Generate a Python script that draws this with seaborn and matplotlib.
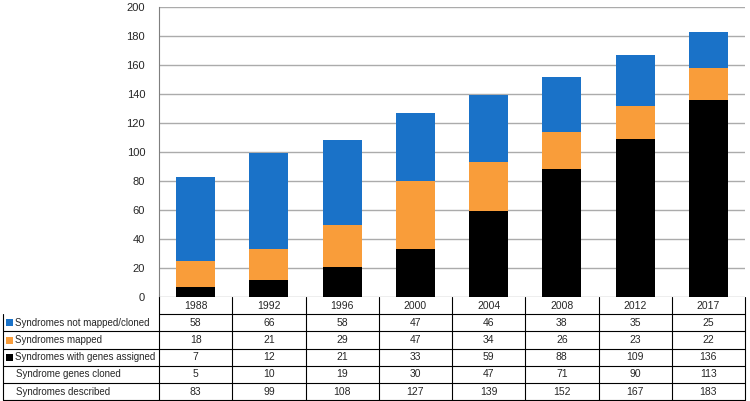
import numpy as np
import pandas as pd
import seaborn as sns
import matplotlib.pyplot as plt

years = ['1988', '1992', '1996', '2000', '2004', '2008', '2012', '2017']
not_mapped = [58, 66, 58, 47, 46, 38, 35, 25]
mapped = [18, 21, 29, 47, 34, 26, 23, 22]
genes_assigned = [7, 12, 21, 33, 59, 88, 109, 136]
genes_cloned = [5, 10, 19, 30, 47, 71, 90, 113]
described = [83, 99, 108, 127, 139, 152, 167, 183]

row_labels = ['Syndromes not mapped/cloned', 'Syndromes mapped',
              'Syndromes with genes assigned', 'Syndrome genes cloned',
              'Syndromes described']
blue = '#1A72C8'
orange = '#F99D3A'
black = '#000000'

sns.set_style('white')
plt.rcParams['font.family'] = ['Liberation Sans', 'DejaVu Sans']

df = pd.DataFrame({'year': years, 'not_mapped': not_mapped, 'mapped': mapped,
                   'assigned': genes_assigned})
df['top_orange'] = df['assigned'] + df['mapped']
df['top_blue'] = df['top_orange'] + df['not_mapped']

W, H = 750, 401
fig = plt.figure(figsize=(7.5, 4.01), dpi=100)
ax = fig.add_axes([159 / W, 1 - 297 / H, (745 - 159) / W, (297 - 7) / H])

# stacked bars drawn from the top of each stack down
for col, c in [('top_blue', blue), ('top_orange', orange), ('assigned', black)]:
    sns.barplot(data=df, x='year', y=col, color=c, width=0.53,
                saturation=1, linewidth=0, edgecolor='none', ax=ax, zorder=3)

ax.set_ylim(0, 200)
ax.set_xlim(-0.5, len(years) - 0.5)
ax.set_yticks(np.arange(0, 201, 20))
ax.yaxis.grid(True, color='#ABABAB', lw=1, zorder=0)
ax.set_axisbelow(True)
ax.tick_params(axis='y', labelsize=8, length=0, pad=10)
ax.set_xticks([])
ax.set_xlabel('')
ax.set_ylabel('')
for s in ['top', 'right', 'bottom']:
    ax.spines[s].set_visible(False)
ax.spines['left'].set_color('#7F7F7F')

# data table below the axes, in figure pixels
def fx(px):
    return px / W

def fy(py):
    return 1 - py / H

tr = fig.transFigure
x0, xl, xr = 3, 159, 745
colw = (xr - xl) / len(years)
head_top, row_h = 297, 17.2
rows_top = head_top + row_h
bottom = rows_top + row_h * len(row_labels)
lc = '#000000'

fig.add_artist(plt.Line2D([fx(xl), fx(xr)], [fy(rows_top)] * 2, transform=tr, color=lc, lw=0.8))
for k in range(len(years) + 1):
    xx = xl + k * colw
    fig.add_artist(plt.Line2D([fx(xx)] * 2, [fy(head_top), fy(bottom)], transform=tr, color=lc, lw=0.8))
fig.add_artist(plt.Line2D([fx(x0)] * 2, [fy(rows_top), fy(bottom)], transform=tr, color=lc, lw=0.8))
for r in range(1, len(row_labels) + 1):
    yy = rows_top + r * row_h
    fig.add_artist(plt.Line2D([fx(x0), fx(xr)], [fy(yy)] * 2, transform=tr, color=lc, lw=0.8))

for k, y in enumerate(years):
    fig.text(fx(xl + (k + 0.5) * colw), fy(head_top + row_h / 2), y,
             ha='center', va='center', fontsize=7.5)

table_rows = [not_mapped, mapped, genes_assigned, genes_cloned, described]
keys = [blue, orange, black, None, None]
for r, (lab, vals, key) in enumerate(zip(row_labels, table_rows, keys)):
    cy = rows_top + (r + 0.5) * row_h
    if key is not None:
        fig.add_artist(plt.Rectangle((fx(6), fy(cy + 3.5)), 7 / W, 7 / H,
                                     transform=tr, color=key, lw=0))
        fig.text(fx(15), fy(cy), lab, ha='left', va='center', fontsize=7)
    else:
        fig.text(fx(16), fy(cy), lab, ha='left', va='center', fontsize=7)
    for k, v in enumerate(vals):
        fig.text(fx(xl + (k + 0.5) * colw), fy(cy), str(v),
                 ha='center', va='center', fontsize=7.5)

fig.savefig('out.png', dpi=100)
